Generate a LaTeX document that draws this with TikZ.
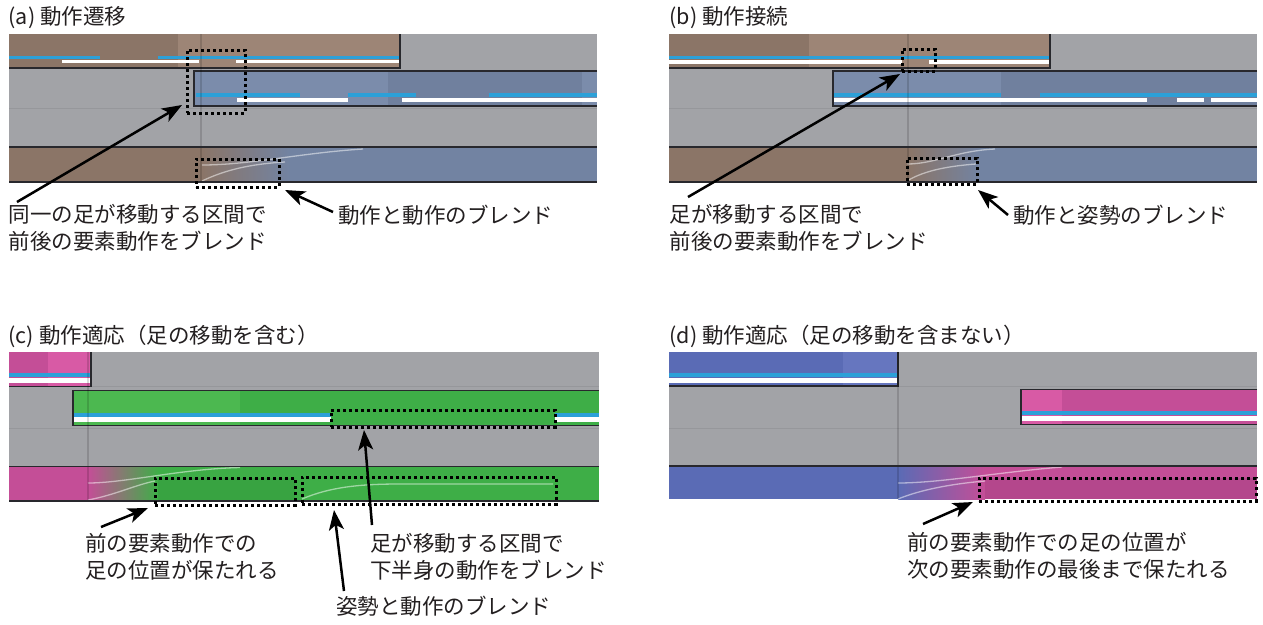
\documentclass[tikz,border=0pt]{standalone}
\usepackage{fontspec}
\setmainfont{Noto Sans CJK JP}
\usetikzlibrary{arrows.meta}
\definecolor{bggray}{RGB}{162,163,167}
\definecolor{rowline}{RGB}{150,151,155}
\definecolor{brownD}{RGB}{139,117,103}
\definecolor{brownL}{RGB}{157,133,118}
\definecolor{bgblueL}{RGB}{123,140,171}
\definecolor{bgblueD}{RGB}{112,128,158}
\definecolor{rowblue}{RGB}{114,131,162}
\definecolor{lineblue}{RGB}{44,160,216}
\definecolor{pinkD}{RGB}{196,78,151}
\definecolor{pinkL}{RGB}{216,90,165}
\definecolor{pinkB}{RGB}{180,71,140}
\definecolor{greenL}{RGB}{76,184,80}
\definecolor{greenD}{RGB}{62,174,71}
\definecolor{greenB}{RGB}{56,163,65}
\definecolor{purpD}{RGB}{90,107,181}
\definecolor{purpL}{RGB}{102,118,191}
\definecolor{edge}{RGB}{40,40,45}
\definecolor{txt}{RGB}{35,31,32}
\begin{document}
\begin{tikzpicture}[x=1pt,y=-1pt,
  bd/.style={draw=edge,line width=1.3pt},
  rl/.style={draw=rowline,line width=1pt},
  cur/.style={draw=black,draw opacity=0.14,line width=1.2pt},
  dotbox/.style={draw=black,line width=3pt,dash pattern=on 3pt off 3pt,inner sep=0pt,outer sep=0pt,anchor=north west},
  arr/.style={draw=black,line width=2.5pt,-{Stealth[length=20pt,width=15pt,inset=5pt]}},
  lbl/.style={inner sep=0pt,anchor=base west,text=txt,font=\fontsize{21.5}{27}\selectfont},
  crv/.style={draw=white,draw opacity=0.5,line width=1.3pt},
  bl/.style={fill=lineblue},
  wl/.style={fill=white}
]
\useasboundingbox (0,0) rectangle (1263,624);
\fill[white] (0,0) rectangle (1263,624);

%% ---------------- panel (a)
\fill[bggray] (9,34) rectangle (597,182);
\draw[rl] (9,108) -- (597,108);
\fill[brownD] (9,34) rectangle (178,68);
\fill[brownL] (178,34) rectangle (400,68);
\fill[bl] (9,55.7) rectangle (100,59.3);
\fill[bl] (158,55.7) rectangle (400,59.3);
\fill[wl] (62,60) rectangle (199,63.3);
\fill[wl] (236,60) rectangle (400,63.3);
\draw[bd] (400,34) -- (400,68) -- (9,68);
\fill[bgblueL] (194,71) rectangle (388,106);
\fill[bgblueD] (388,71) rectangle (582,106);
\fill[bgblueL] (582,71) rectangle (597,106);
\fill[bl] (196,93.3) rectangle (300,97.3);
\fill[bl] (348,93.3) rectangle (416,97.3);
\fill[bl] (489,93.3) rectangle (597,97.3);
\fill[wl] (237,98.3) rectangle (348,101.7);
\fill[wl] (402,98.3) rectangle (597,101.7);
\draw[bd] (597,71) -- (194,71) -- (194,106) -- (597,106);
\fill[brownD] (9,147) rectangle (201,182);
\shade[left color=brownD,right color=rowblue] (201,147) rectangle (290,182);
\fill[rowblue] (290,147) rectangle (597,182);
\draw[crv] (202,165) .. controls (250,165) and (300,153) .. (363,149);
\draw[crv] (202,181) .. controls (225,170) and (250,164) .. (285,162);
\draw[cur] (201,34) -- (201,182);
\draw[bd] (9,147) -- (597,147);
\draw[bd] (9,182) -- (597,182);
\node[dotbox,minimum width=58pt,minimum height=63pt] (ba1) at (187,50) {};
\node[dotbox,minimum width=83pt,minimum height=28pt] (ba2) at (196,159) {};
\node[lbl] (ta) at (8.5,24) {(a) 動作遷移};
\node[lbl] (la1) at (8.5,222) {同一の足が移動する区間で};
\node[lbl] (la2) at (8.5,249) {前後の要素動作をブレンド};
\node[lbl] (la3) at (338,223) {動作と動作のブレンド};
\coordinate (qa1) at (17,202);
\coordinate (qa2) at (333,212);
\draw[arr] (qa1) -- ([shift={(-5,-8)}]ba1.south west);
\draw[arr] (qa2) -- ([shift={(6,3)}]ba2.south east);

%% ---------------- panel (b)
\fill[bggray] (669,34) rectangle (1257,182);
\draw[rl] (669,108) -- (1257,108);
\fill[brownD] (669,34) rectangle (809,68);
\fill[brownL] (809,34) rectangle (1050,68);
\fill[bl] (669,55.7) rectangle (1050,59.3);
\fill[wl] (669,60) rectangle (902,63.7);
\fill[wl] (929,60) rectangle (1050,63.7);
\draw[bd] (1050,34) -- (1050,68) -- (669,68);
\fill[bgblueL] (833,71) rectangle (1001,106);
\fill[bgblueD] (1001,71) rectangle (1257,106);
\fill[bl] (833,93.3) rectangle (1001,97.3);
\fill[bl] (1040,93.3) rectangle (1257,97.3);
\fill[wl] (833,98.3) rectangle (1147,102);
\fill[wl] (1177,98.3) rectangle (1204,102);
\fill[wl] (1211,98.3) rectangle (1257,102);
\draw[bd] (1257,71) -- (833,71) -- (833,106) -- (1257,106);
\fill[brownD] (669,147) rectangle (908,182);
\shade[left color=brownD,right color=rowblue] (908,147) rectangle (980,182);
\fill[rowblue] (980,147) rectangle (1257,182);
\draw[crv] (907,164) .. controls (935,164) and (955,151) .. (995,149);
\draw[crv] (907,181) .. controls (925,170) and (950,166) .. (976,164);
\draw[cur] (908,34) -- (908,182);
\draw[bd] (669,147) -- (1257,147);
\draw[bd] (669,182) -- (1257,182);
\node[dotbox,minimum width=33pt,minimum height=22pt] (bb1) at (902,49) {};
\node[dotbox,minimum width=70pt,minimum height=26pt] (bb2) at (907,158) {};
\node[lbl] (tb) at (669.5,24) {(b) 動作接続};
\node[lbl] (lb1) at (669.5,222) {足が移動する区間で};
\node[lbl] (lb2) at (669.5,249) {前後の要素動作をブレンド};
\node[lbl] (lb3) at (1013,223) {動作と姿勢のブレンド};
\coordinate (qb1) at (688,197);
\coordinate (qb2) at (1008,215);
\draw[arr] (qb1) -- ([shift={(-2,3)}]bb1.south west);
\draw[arr] (qb2) -- ([shift={(1,6)}]bb2.south east);

%% ---------------- panel (c)
\fill[bggray] (9,352) rectangle (599,501);
\draw[rl] (9,386.7) -- (599,386.7);
\draw[rl] (9,428) -- (599,428);
\fill[pinkD] (9,352) rectangle (48,386.7);
\fill[pinkL] (48,352) rectangle (91,386.7);
\fill[bl] (9,373.3) rectangle (91,376.7);
\fill[wl] (9,378) rectangle (91,383);
\draw[bd] (91,352) -- (91,386.7) -- (9,386.7);
\fill[greenL] (73,390.7) rectangle (240,425.3);
\fill[greenD] (240,390.7) rectangle (599,425.3);
\fill[bl] (73,412.7) rectangle (331,416.7);
\fill[bl] (555,412.7) rectangle (599,416.7);
\fill[wl] (73,417.3) rectangle (331,421.7);
\fill[wl] (555,417.3) rectangle (599,421.7);
\draw[bd] (599,390.7) -- (73,390.7) -- (73,425.3) -- (599,425.3);
\fill[pinkD] (9,466.7) rectangle (88,501);
\shade[left color=pinkD,right color=greenD] (88,466.7) rectangle (158,501);
\fill[greenD] (158,466.7) rectangle (599,501);
\fill[greenB] (158,478) rectangle (295,501);
\draw[crv] (88,483) .. controls (125,483) and (180,469) .. (240,467.5);
\draw[crv] (88,500) .. controls (115,495) and (135,485) .. (155,481);
\draw[crv] (302,499) .. controls (330,487) and (360,484) .. (400,484) -- (553,484);
\draw[cur] (88,352) -- (88,501);
\draw[bd] (9,466.7) -- (599,466.7);
\draw[bd] (9,501) -- (599,501);
\node[dotbox,minimum width=224pt,minimum height=17pt] (bc1) at (331,410) {};
\node[dotbox,minimum width=140pt,minimum height=27pt] (bc2) at (155,478) {};
\node[dotbox,minimum width=254pt,minimum height=27pt] (bc3) at (302,477) {};
\node[lbl] (tc) at (8.5,343) {(c) 動作適応（足の移動を含む）};
\node[lbl] (lc1) at (85,551) {前の要素動作での};
\node[lbl] (lc2) at (85,578) {足の位置が保たれる};
\node[lbl] (lc3) at (370,551) {足が移動する区間で};
\node[lbl] (lc4) at (370,578) {下半身の動作をブレンド};
\node[lbl] (lc5) at (336,614) {姿勢と動作のブレンド};
\coordinate (qc1) at (101,527);
\coordinate (qc2) at (344,591);
\coordinate (qc3) at (372,525);
\draw[arr] (qc1) -- ([shift={(-7,3)}]bc2.south west);
\draw[arr] (qc2) -- ([shift={(32,6)}]bc3.south west);
\draw[arr] (qc3) -- ([shift={(33,3)}]bc1.south west);

%% ---------------- panel (d)
\fill[bggray] (669,352) rectangle (1257,499);
\draw[rl] (669,386) -- (1257,386);
\draw[rl] (669,428) -- (1257,428);
\fill[purpD] (669,352) rectangle (843,386);
\fill[purpL] (843,352) rectangle (898,386);
\fill[bl] (669,372.7) rectangle (898,376.7);
\fill[wl] (669,378) rectangle (898,382.7);
\draw[bd] (898,352) -- (898,386) -- (669,386);
\fill[pinkL] (1021,389.3) rectangle (1062,424.3);
\fill[pinkD] (1062,389.3) rectangle (1257,424.3);
\fill[bl] (1021,411) rectangle (1257,415);
\fill[wl] (1021,416) rectangle (1257,421);
\draw[bd] (1257,389.3) -- (1021,389.3) -- (1021,424.3) -- (1257,424.3);
\fill[purpD] (669,466) rectangle (898,499);
\shade[left color=purpD,right color=pinkD] (898,466) rectangle (985,499);
\fill[pinkD] (985,466) rectangle (1257,499);
\fill[pinkB] (985,478) rectangle (1257,499);
\draw[crv] (898,483) .. controls (940,483) and (1000,472) .. (1062,467);
\draw[crv] (898,499) .. controls (920,490) and (950,484) .. (985,481);
\draw[cur] (898,352) -- (898,499);
\draw[bd] (669,466) -- (1257,466);
\node[dotbox,minimum width=277pt,minimum height=23pt] (bd1) at (979,478) {};
\node[lbl] (td) at (669.5,343) {(d) 動作適応（足の移動を含まない）};
\node[lbl] (ld1) at (907,550) {前の要素動作での足の位置が};
\node[lbl] (ld2) at (907,577) {次の要素動作の最後まで保たれる};
\coordinate (qd1) at (923,524);
\draw[arr] (qd1) -- ([shift={(-6,1)}]bd1.south west);
\end{tikzpicture}
\end{document}
